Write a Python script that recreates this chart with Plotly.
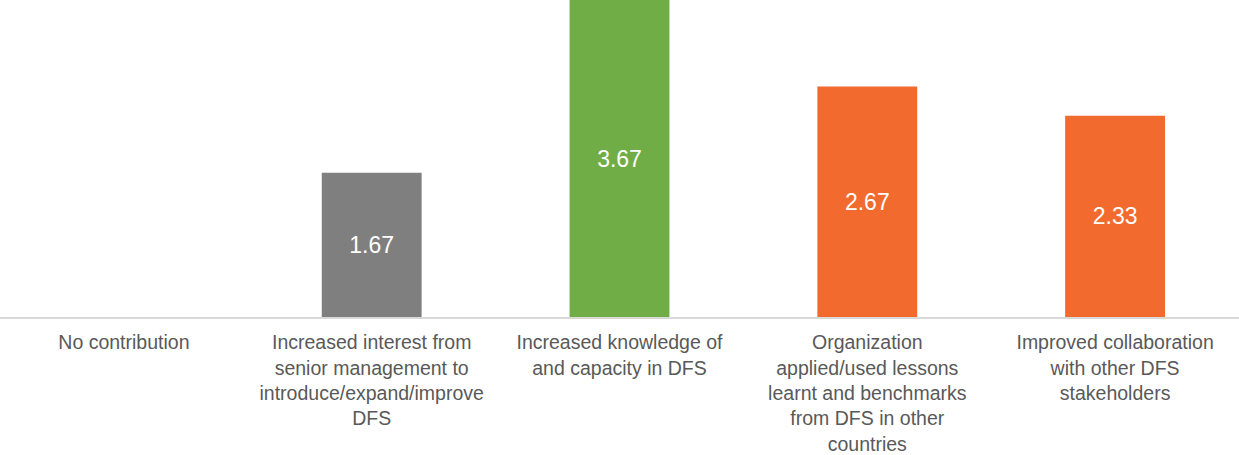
import plotly.graph_objects as go

categories = [
    "No contribution",
    "Increased interest from<br>senior management to<br>introduce/expand/improve<br>DFS",
    "Increased knowledge of<br>and capacity in DFS",
    "Organization<br>applied/used lessons<br>learnt and benchmarks<br>from DFS in other<br>countries",
    "Improved collaboration<br>with other DFS<br>stakeholders",
]
values = [0, 1.67, 3.67, 2.67, 2.33]
colors = ["#7F7F7F", "#7F7F7F", "#70AD47", "#F26A2E", "#F26A2E"]

labels = ["" if v == 0 else f"{v:.2f}" for v in values]

fig = go.Figure(
    go.Bar(
        x=categories,
        y=values,
        marker=dict(color=colors, line=dict(width=0)),
        text=labels,
        textposition="inside",
        insidetextanchor="middle",
        textangle=0,
        textfont=dict(family="Liberation Sans, Arial, sans-serif", size=23, color="white"),
        hoverinfo="skip",
    )
)

fig.update_layout(
    width=1239,
    height=455,
    margin=dict(l=0, r=0, t=0, b=138),
    paper_bgcolor="white",
    plot_bgcolor="white",
    bargap=0.597,
    showlegend=False,
    font=dict(family="Liberation Sans, Arial, sans-serif", color="#595959"),
    uniformtext=dict(minsize=8, mode="show"),
)
fig.update_xaxes(
    showline=True,
    linecolor="#D9D9D9",
    linewidth=2,
    ticks="",
    showgrid=False,
    tickfont=dict(size=19.5, color="#595959"),
    tickangle=0,
    ticklabelstandoff=7,
)
fig.update_yaxes(
    range=[0, 3.67],
    visible=False,
    showgrid=False,
    zeroline=False,
)

fig.write_html("out.html")
